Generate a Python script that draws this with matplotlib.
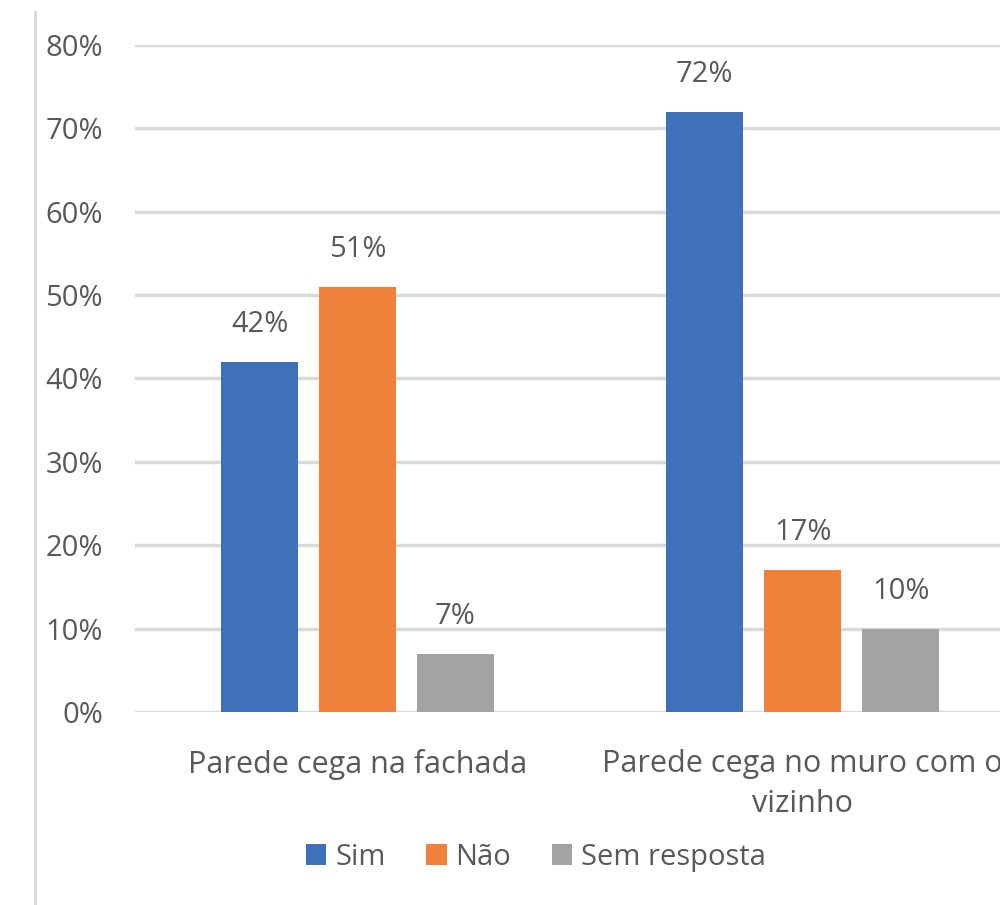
import matplotlib.pyplot as plt
from matplotlib.lines import Line2D
import numpy as np

categories = ["Parede cega na fachada", "Parede cega no muro com o\nvizinho"]
series = ["Sim", "Não", "Sem resposta"]
sim = [42, 72]
nao = [51, 17]
sem_resposta = [7, 10]
y_ticks = [0, 10, 20, 30, 40, 50, 60, 70, 80]

colors = ["#3F70BA", "#F0813A", "#A3A3A3"]
text_color = "#595959"
plt.rcParams['font.family'] = ['Open Sans', 'DejaVu Sans']
fs = 21

fig = plt.figure(figsize=(10, 9.05), dpi=100)
ax = fig.add_axes([0.135, 0.2133, 0.865, 0.737])

x = np.arange(len(categories))
width = 0.173
step = 0.22
for i, (vals, name) in enumerate(zip([sim, nao, sem_resposta], series)):
    pos = x + (i - 1) * step
    bars = ax.bar(pos, vals, width, color=colors[i], label=name, zorder=3)
    for b, v in zip(bars, vals):
        ax.text(b.get_x() + b.get_width() / 2, v + 4.5, f"{v}%",
                ha='center', va='center', fontsize=fs, color=text_color)

ax.set_ylim(0, 80)
ax.set_xlim(-0.5, 1.443)
ax.set_yticks(y_ticks)
ax.set_yticklabels([f"{t}%" for t in y_ticks])
ax.set_xticks(x)
ax.set_xticklabels(categories)
ax.tick_params(axis='y', length=0, pad=23, labelsize=fs, labelcolor=text_color)
ax.tick_params(axis='x', length=0, pad=27, labelsize=22, labelcolor=text_color)
for lbl in ax.get_xticklabels():
    lbl.set_linespacing(1.4)
ax.grid(axis='y', color='#D9D9D9', linewidth=2.5, zorder=0)
for s in ax.spines.values():
    s.set_visible(False)

# chart area border on the left
fig.add_artist(Line2D([0.035, 0.035], [0, 0.987], color='#D9D9D9', linewidth=2))

fig.legend(loc='center', bbox_to_anchor=(0.536, 0.053), ncol=3, frameon=False,
           fontsize=fs, labelcolor=text_color, handlelength=0.7, handleheight=0.7,
           handletextpad=0.3, columnspacing=1.4)

fig.savefig("out.png", dpi=100)
